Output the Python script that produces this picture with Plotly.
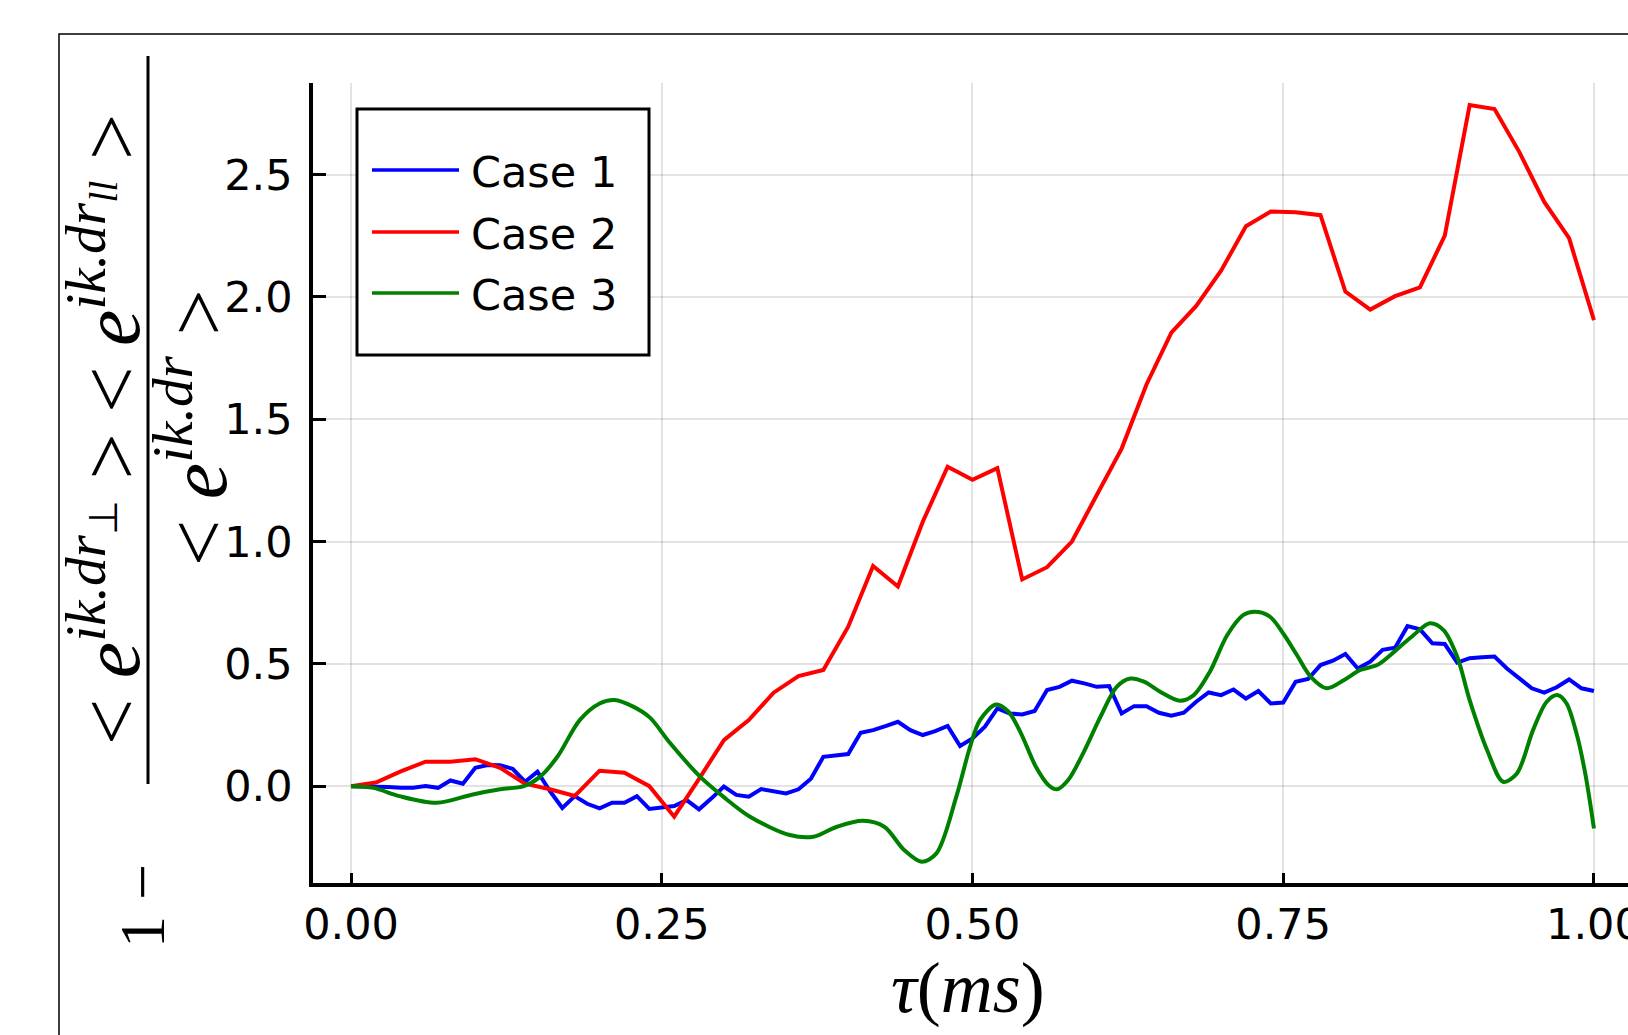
import plotly.graph_objects as go

# ---------------- data ----------------
series_names = ["Case 1", "Case 2", "Case 3"]
series_colors = ["#0000ff", "#ff0000", "#008000"]

case1_tau = [round(i * 0.01, 2) for i in range(101)]
case1_val = [0.0, 0.0, -0.004, -0.004, -0.007, -0.007, 0.0, -0.007, 0.023, 0.01,
             0.075, 0.086, 0.085, 0.071, 0.018, 0.059, -0.02, -0.089, -0.041, -0.072,
             -0.091, -0.068, -0.068, -0.041, -0.093, -0.089, -0.081, -0.057, -0.095, -0.05,
             -0.002, -0.036, -0.043, -0.012, -0.021, -0.030, -0.013, 0.03, 0.12, 0.125,
             0.131, 0.218, 0.229, 0.245, 0.263, 0.229, 0.209, 0.225, 0.246, 0.164,
             0.195, 0.243, 0.318, 0.297, 0.293, 0.307, 0.393, 0.406, 0.431, 0.42,
             0.406, 0.409, 0.297, 0.327, 0.327, 0.30, 0.288, 0.30, 0.345, 0.383,
             0.372, 0.395, 0.358, 0.389, 0.338, 0.342, 0.427, 0.438, 0.495, 0.513,
             0.540, 0.481, 0.509, 0.557, 0.566, 0.654, 0.641, 0.584, 0.581, 0.505,
             0.523, 0.527, 0.530, 0.481, 0.441, 0.40, 0.382, 0.404, 0.436, 0.40,
             0.389]

case2_tau = [round(i * 0.02, 2) for i in range(51)]
case2_val = [0.0, 0.015, 0.06, 0.10, 0.10, 0.11, 0.075, 0.01, -0.013, -0.04,
             0.063, 0.055, 0.0, -0.125, 0.03, 0.188, 0.27, 0.382, 0.45, 0.475,
             0.652, 0.90, 0.816, 1.081, 1.306, 1.252, 1.30, 0.845, 0.895, 1.0,
             1.19, 1.38, 1.642, 1.854, 1.963, 2.107, 2.289, 2.349, 2.346, 2.334,
             2.022, 1.948, 2.003, 2.039, 2.251, 2.784, 2.768, 2.592, 2.388, 2.24,
             1.905]

case3_tau = [0.0, 0.018, 0.039, 0.069, 0.098, 0.12, 0.139, 0.152, 0.166, 0.184,
             0.20, 0.212, 0.227, 0.2405, 0.257, 0.281, 0.2995, 0.321, 0.353, 0.372,
             0.391, 0.412, 0.429, 0.445, 0.459, 0.471, 0.487, 0.498, 0.506,
             0.519, 0.529, 0.539, 0.551, 0.561, 0.568, 0.577, 0.589, 0.603, 0.616,
             0.627, 0.638, 0.651, 0.667, 0.678, 0.691, 0.705, 0.718, 0.727, 0.739,
             0.750, 0.761, 0.772, 0.785, 0.799, 0.812, 0.826, 0.841, 0.855, 0.868,
             0.879, 0.890, 0.900, 0.914, 0.927, 0.938, 0.951, 0.962, 0.971, 0.978,
             0.986, 0.993, 1.0]
case3_val = [0.0, -0.007, -0.041, -0.068, -0.034, -0.013, 0.0, 0.038, 0.12, 0.27,
             0.338, 0.352, 0.325, 0.28, 0.174, 0.038, -0.043, -0.125, -0.20, -0.207,
             -0.166, -0.142, -0.166, -0.261, -0.309, -0.275, -0.043, 0.16, 0.27,
             0.334, 0.304, 0.216, 0.079, 0.005, -0.013, 0.025, 0.134, 0.284, 0.406,
             0.44, 0.427, 0.386, 0.349, 0.372, 0.468, 0.618, 0.70, 0.713, 0.694,
             0.624, 0.536, 0.448, 0.40, 0.434, 0.475, 0.496, 0.557, 0.618, 0.666,
             0.638, 0.529, 0.352, 0.148, 0.018, 0.052, 0.229, 0.345, 0.372, 0.338,
             0.215, 0.052, -0.173]

x_ticks = [0.0, 0.25, 0.5, 0.75, 1.0]
x_tick_labels = ["0.00", "0.25", "0.50", "0.75", "1.00"]
y_ticks = [0.0, 0.5, 1.0, 1.5, 2.0, 2.5]
y_tick_labels = ["0.0", "0.5", "1.0", "1.5", "2.0", "2.5"]

# ---------------- layout geometry ----------------
W, H = 1628, 1035
ML, MR, MT, MB = 313, 0, 83, 152
PW = W - ML - MR
PH = H - MT - MB


def px(xp):
    return (xp - ML) / PW


def py(yp):
    return (H - MB - yp) / PH


fig = go.Figure()
traces = [(case1_tau, case1_val, "linear"), (case2_tau, case2_val, "linear"),
          (case3_tau, case3_val, "spline")]
for (xs, ys, shape), name, color in zip(traces, series_names, series_colors):
    fig.add_trace(go.Scatter(x=xs, y=ys, mode="lines", name=name,
                             line=dict(color=color, width=4, shape=shape,
                                       smoothing=0.9 if shape == "spline" else None)))

axis_common = dict(showline=True, linecolor="black", linewidth=3.5, mirror=False,
                   ticks="inside", tickcolor="black", tickwidth=3,
                   showgrid=True, gridcolor="rgba(0,0,0,0.11)", gridwidth=1.5,
                   zeroline=False, tickfont=dict(family="DejaVu Sans", size=43, color="black"))

fig.update_xaxes(range=[-0.0306, 1.0274], tickvals=x_ticks, ticktext=x_tick_labels,
                 ticklen=10, ticklabelstandoff=1, ticklabeloverflow="allow", **axis_common)
fig.update_yaxes(range=[-0.396, 2.8745], tickvals=y_ticks, ticktext=y_tick_labels,
                 ticklen=13, ticklabelstandoff=8, **axis_common)

shapes = []
# outer frame (cropped at right/bottom)
shapes.append(dict(type="rect", xref="paper", yref="paper",
                   x0=px(59), x1=px(1800), y0=py(1300), y1=py(34),
                   line=dict(color="black", width=1.5), layer="above"))
# fraction bar of y label
shapes.append(dict(type="line", xref="paper", yref="paper",
                   x0=px(148), x1=px(148), y0=py(784), y1=py(56),
                   line=dict(color="black", width=3)))
# legend box
shapes.append(dict(type="rect", xref="paper", yref="paper",
                   x0=px(357), x1=px(649), y0=py(355), y1=py(109),
                   line=dict(color="black", width=3), fillcolor="white", layer="above"))
legend_rows = [170, 232, 293]
annotations = []
for name, color, ry in zip(series_names, series_colors, legend_rows):
    shapes.append(dict(type="line", xref="paper", yref="paper",
                       x0=px(372), x1=px(459), y0=py(ry), y1=py(ry),
                       line=dict(color=color, width=3.5), layer="above"))
    annotations.append(dict(xref="paper", yref="paper", x=px(469), y=py(ry + 2),
                            xanchor="left", yanchor="middle", showarrow=False,
                            text=name, font=dict(family="DejaVu Sans", size=43, color="black")))

math_font = dict(family="Liberation Serif", size=82, color="black")
numer = ("&lt; <i>e</i><sup><i>ik.dr</i><sub>⊥</sub></sup> &gt; "
         "&lt; <i>e</i><sup><i>ik.dr</i><sub><i>ll</i></sub></sup> &gt;")
denom = "&lt; <i>e</i><sup><i>ik.dr</i></sup> &gt;"
annotations.append(dict(xref="paper", yref="paper", x=px(105), y=py(430), textangle=-90,
                        xanchor="center", yanchor="middle", showarrow=False,
                        text=numer, font=math_font))
annotations.append(dict(xref="paper", yref="paper", x=px(192), y=py(428), textangle=-90,
                        xanchor="center", yanchor="middle", showarrow=False,
                        text=denom, font=math_font))
annotations.append(dict(xref="paper", yref="paper", x=px(142), y=py(906), textangle=-90,
                        xanchor="center", yanchor="middle", showarrow=False,
                        text="1 −", font=dict(family="Liberation Serif", size=64, color="black")))
annotations.append(dict(xref="paper", yref="paper", x=px(968), y=py(988),
                        xanchor="center", yanchor="middle", showarrow=False,
                        text="<i>τ</i>(<i>ms</i>)",
                        font=dict(family="Liberation Serif", size=72, color="black")))

fig.update_layout(width=W, height=H, margin=dict(l=ML, r=MR, t=MT, b=MB, autoexpand=False),
                  plot_bgcolor="white", paper_bgcolor="white", showlegend=False,
                  shapes=shapes, annotations=annotations)

fig.write_html("out.html")
